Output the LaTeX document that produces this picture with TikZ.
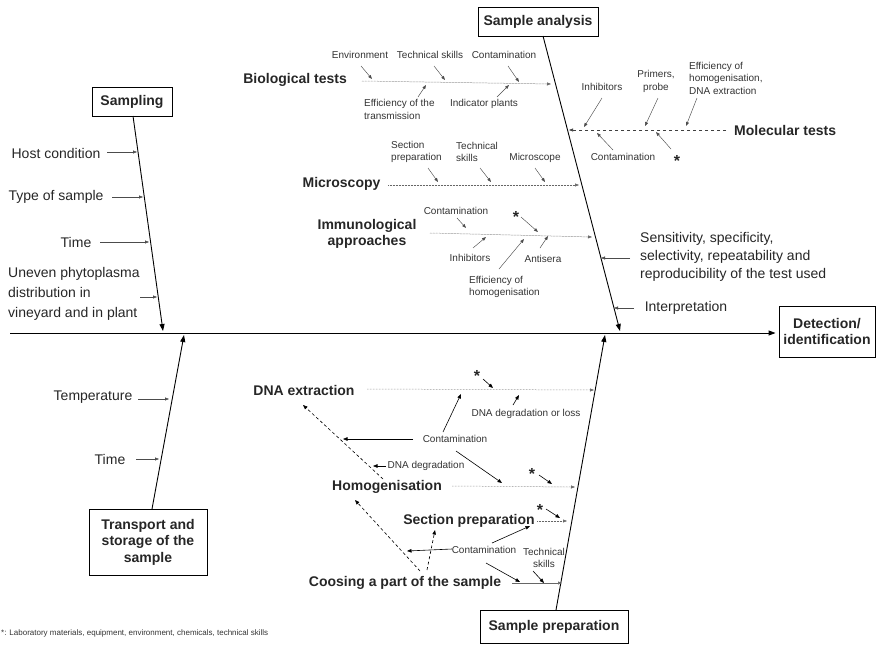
\documentclass[tikz,border=0pt]{standalone}
\usepackage{fontspec}
\setmainfont{Liberation Sans}
\usetikzlibrary{arrows.meta}
\newcommand{\myar}[4][sa]{\coordinate (#2s) at (#3); \coordinate (#2e) at (#4); \draw[#1] (#2s) -- (#2e);}
\begin{document}
\begin{tikzpicture}[x=1pt,y=-1pt,
  txt/.style={inner sep=0pt, text=black!85, font=\fontsize{14}{17}\selectfont},
  hd/.style={inner sep=0pt, text=black!85, font=\fontsize{14}{16}\selectfont\bfseries},
  sm/.style={inner sep=0pt, text=black!80, font=\fontsize{10}{12.5}\selectfont},
  box/.style={draw=black, line width=0.9pt, inner sep=0pt, text=black!85, font=\fontsize{14}{16.5}\selectfont\bfseries, align=center},
  bone/.style={draw=black, line width=0.9pt, -{Triangle[length=7pt,width=5pt]}},
  sa/.style={draw=black!70, line width=0.45pt, -{Triangle[length=4pt,width=3pt]}},
  ma/.style={draw=black, line width=0.6pt, -{Triangle[length=4.5pt,width=3.5pt]}},
  dotln/.style={draw=black!60, line width=0.5pt, dash pattern=on 0.6pt off 0.9pt, -{Triangle[length=4pt,width=3pt]}},
  solidln/.style={draw=black!60, line width=0.5pt, -{Triangle[length=4pt,width=3pt]}},
  dashln/.style={draw=black, line width=0.6pt, dash pattern=on 3pt off 2.5pt, -{Triangle[length=4.5pt,width=3.5pt]}},
  molln/.style={draw=black!75, line width=0.6pt, dash pattern=on 3pt off 3pt, -{Triangle[length=4pt,width=3pt]}},
  starn/.style={inner sep=0pt, text=black!85, font=\fontsize{16}{16}\selectfont\bfseries}
]
\useasboundingbox (0,0) rectangle (876,646);

% ---------- boxes ----------
\node[box, minimum width=80pt, minimum height=29pt] (sampling) at (132,101.5) {Sampling};
\node[box, minimum width=120pt, minimum height=29pt] (analysis) at (538,21.5) {Sample analysis};
\node[box, minimum width=96pt, minimum height=51pt] (detect) at (827,331.5) {Detection/\\identification};
\node[box, minimum width=118pt, minimum height=66pt] (transport) at (148,542) {Transport and\\storage of the\\sample};
\node[box, minimum width=148pt, minimum height=33pt] (prep) at (554,626.5) {Sample preparation};

% ---------- main bones ----------
\coordinate (spineL) at (10,333);
\draw[bone, shorten >=3pt] (spineL) -- (detect.west |- spineL);
\coordinate (sampTop) at (133,116);
\coordinate (sampTip) at (163,331);
\draw[bone] (sampTop) -- (sampTip);
\coordinate (transBot) at (152,509);
\coordinate (transTip) at (184,335);
\draw[bone] (transBot) -- (transTip);
\coordinate (anaTop) at (543,36);
\coordinate (anaTip) at (620,331);
\draw[bone] (anaTop) -- (anaTip);
\coordinate (prepBot) at (556,610);
\coordinate (prepTip) at (605,335);
\draw[bone] (prepBot) -- (prepTip);

% ---------- sampling ----------
\node[txt] (hostc) at (56,153) {Host condition};
\node[txt] (types) at (56,197) {Type of sample};
\node[txt] (time1) at (76,242) {Time};
\node[txt, anchor=west, align=left, font=\fontsize{14}{20}\selectfont] (uneven) at (8,294) {Uneven phytoplasma\\distribution in\\vineyard and in plant};
\myar{a1}{107,152}{137,152}
\myar{a2}{112,197}{143,197}
\myar{a3}{100,242}{149,242}
\myar{a4}{140,297}{157,297}

% ---------- transport ----------
\node[txt] (temp) at (93,397) {Temperature};
\node[txt] (time2) at (110,459) {Time};
\myar{a5}{138,399}{169,399}
\myar{a6}{136,459}{159,459}

% ---------- biological tests ----------
\node[hd, anchor=east] (bio) at (347,80) {Biological tests};
\coordinate (bioS) at (362,81);
\coordinate (bioE) at (551,84);
\draw[dotln] (bioS) -- (bioE);
\node[sm] (env) at (360,55) {Environment};
\node[sm] (tech1) at (430,55) {Technical skills};
\node[sm] (cont1) at (504,55) {Contamination};
\node[sm, anchor=west, align=left] (eff1) at (364,109.5) {Efficiency of the\\transmission};
\node[sm] (ind) at (484,104) {Indicator plants};
\myar{b1}{361,66}{372,79}
\myar{b2}{434,66}{445,80}
\myar{b3}{508,66}{519,82}
\myar{b4}{418,97}{426,85}
\myar{b5}{497,97}{509,85}

% ---------- molecular tests ----------
\node[hd, anchor=west] (mol) at (734,130) {Molecular tests};
\coordinate (molS) at (726,130);
\coordinate (molE) at (569,130);
\draw[molln] (molS) -- (molE);
\node[sm] (inh1) at (602,87) {Inhibitors};
\node[sm, align=center] (prim) at (656,81.5) {Primers,\\probe};
\node[sm, anchor=west, align=left] (eff2) at (689,78) {Efficiency of\\homogenisation,\\DNA extraction};
\node[sm] (cont2) at (623,157) {Contamination};
\node[starn] (star1) at (677,161) {*};
\myar{m1}{602,98}{584,127}
\myar{m2}{658,98}{645,126}
\myar{m3}{697,98}{686,126}
\myar{m4}{613,150}{597,133}
\myar{m5}{671,149}{656,132}

% ---------- microscopy ----------
\node[hd] (mic) at (341.5,184) {Microscopy};
\coordinate (micS) at (388,185);
\coordinate (micE) at (579,185);
\draw[dotln] (micS) -- (micE);
\node[sm, anchor=west, align=left] (secp1) at (391,152) {Section\\preparation};
\node[sm, anchor=west, align=left] (tech2) at (456,152) {Technical\\skills};
\node[sm] (micr) at (535,158) {Microscope};
\myar{c1}{428,168}{438,182}
\myar{c2}{480,168}{491,182}
\myar{c3}{535,168}{545,182}

% ---------- immunological ----------
\node[hd, align=center] (imm) at (367,234) {Immunological\\approaches};
\coordinate (immS) at (430,233);
\coordinate (immE) at (592,237);
\draw[dotln] (immS) -- (immE);
\node[sm] (cont3) at (456,211) {Contamination};
\node[starn] (star2) at (516,217) {*};
\node[sm] (inh2) at (470,258) {Inhibitors};
\node[sm] (antis) at (543,259) {Antisera};
\node[sm, anchor=west, align=left] (eff3) at (469,287) {Efficiency of\\homogenisation};
\myar{i1}{457,218}{466,228}
\myar{i2}{521,217}{538,232}
\myar{i3}{473,248}{486,237}
\myar{i4}{540,248}{548,236}
\myar{i5}{499,269}{524,239}

% ---------- right side ----------
\node[txt, anchor=west, align=left, font=\fontsize{14}{18}\selectfont] (sens) at (640,257) {Sensitivity, specificity,\\selectivity, repeatability and\\reproducibility of the test used};
\node[txt] (interp) at (686,308) {Interpretation};
\myar{r1}{630,258}{601,258}
\myar{r2}{634,308}{614,308}

% ---------- DNA extraction ----------
\node[hd] (dna) at (304,390) {DNA extraction};
\coordinate (dnaS) at (367,389);
\coordinate (dnaE) at (594,390);
\draw[dotln] (dnaS) -- (dnaE);
\node[starn] (star3) at (477,376) {*};
\myar[ma]{d1}{483,379}{493,388}
\node[sm] (dloss) at (526,414) {DNA degradation or loss};
\myar[ma]{d2}{513,405}{519,395}
\node[sm] (cont4) at (455,439) {Contamination};
\myar[ma]{d3}{443,432}{461,394}
\myar[ma]{d4}{413,439}{343,439}
\myar[ma]{d5}{456,451}{502,483}
\node[sm] (ddeg) at (426,466) {DNA degradation};
\myar[ma]{d6}{386,466}{373,466}
\myar[dashln]{d7}{383,479}{303,405}

% ---------- homogenisation ----------
\node[hd] (hom) at (387,487) {Homogenisation};
\coordinate (homS) at (452,486);
\coordinate (homE) at (575,487);
\draw[dotln] (homS) -- (homE);
\node[starn] (star4) at (532,474) {*};
\myar[ma]{h1}{539,475}{552,484}
\myar[dashln]{h2}{420,571}{355,500}
\myar[dashln]{h3}{427,570}{435,530}

% ---------- section preparation ----------
\node[hd] (secprep) at (469,521) {Section preparation};
\coordinate (secS) at (537,521);
\coordinate (secE) at (567,521);
\draw[dotln] (secS) -- (secE);
\node[starn] (star5) at (540,510) {*};
\myar[ma]{s1}{546,509}{560,518}
\node[sm] (cont5) at (484,550) {Contamination};
\myar[ma]{s2}{452,549}{407,551}
\myar[ma]{s3}{492,543}{530,526}
\myar[ma]{s4}{486,563}{520,582}
\node[sm, align=center] (tech3) at (544,558) {Technical\\skills};
\myar[ma]{s5}{533,571}{544,583}

% ---------- choosing ----------
\node[hd] (coos) at (405,583) {Coosing a part of the sample};
\coordinate (coosS) at (512,583);
\coordinate (coosE) at (562,583);
\draw[solidln] (coosS) -- (coosE);

% ---------- footnote ----------
\node[inner sep=0pt, anchor=west, text=black!80, font=\fontsize{8}{10}\selectfont] (foot) at (1,633) {*: Laboratory materials, equipment, environment, chemicals, technical skills};
\end{tikzpicture}
\end{document}
